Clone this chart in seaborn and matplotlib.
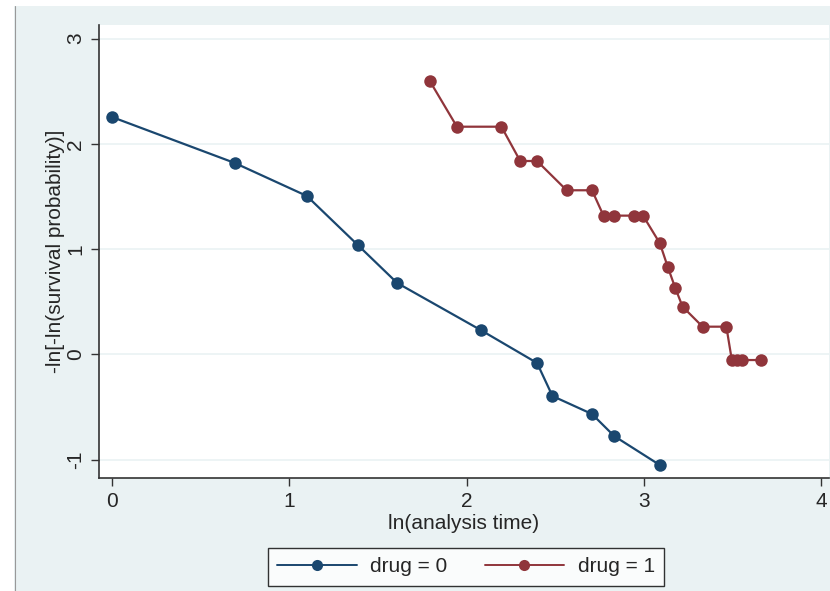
import matplotlib
matplotlib.use("Agg")
import matplotlib.pyplot as plt
from matplotlib.patches import Rectangle
import seaborn as sns
import pandas as pd

# drug = 0
x0 = [0.0, 0.693, 1.099, 1.386, 1.609, 2.079, 2.398, 2.485, 2.708, 2.833, 3.091]
y0 = [2.254, 1.817, 1.504, 1.039, 0.677, 0.231, -0.083, -0.397, -0.568, -0.777, -1.053]
# drug = 1
x1 = [1.792, 1.946, 2.197, 2.303, 2.398, 2.565, 2.708, 2.773, 2.833, 2.944, 2.996,
      3.091, 3.135, 3.178, 3.219, 3.332, 3.466, 3.497, 3.526, 3.555, 3.664]
y1 = [2.599, 2.162, 2.162, 1.836, 1.836, 1.558, 1.558, 1.317, 1.317, 1.317, 1.317,
      1.054, 0.832, 0.629, 0.452, 0.262, 0.262, -0.055, -0.055, -0.055, -0.055]
groups = ["drug = 0", "drug = 1"]
xticks = [0, 1, 2, 3, 4]
yticks = [-1, 0, 1, 2, 3]

df = pd.DataFrame({
    "x": x0 + x1,
    "y": y0 + y1,
    "group": [groups[0]] * len(x0) + [groups[1]] * len(x1),
})

sns.set_style("white")
plt.rcParams["font.family"] = ["Liberation Sans", "DejaVu Sans"]

BG = "#EAF2F3"
colors = {groups[0]: "#1a476f", groups[1]: "#90353b"}
FS = 15

fig = plt.figure(figsize=(8.30, 5.91), dpi=100)
fig.patch.set_facecolor(BG)
# white screenshot margins
fig.patches.append(Rectangle((0, 0), 14 / 830, 1, transform=fig.transFigure,
                             facecolor="white", edgecolor="none", zorder=-1))
fig.patches.append(Rectangle((0, 1 - 6 / 591), 1, 6 / 591, transform=fig.transFigure,
                             facecolor="white", edgecolor="none", zorder=-1))
fig.lines.append(plt.Line2D([15 / 830, 15 / 830], [0, 1 - 6 / 591], transform=fig.transFigure,
                            color="#999999", lw=0.8))

W, H = 830, 591
ax = fig.add_axes([99 / W, 1 - 478 / H, (829 - 99) / W, (478 - 25) / H])
ax.set_facecolor("white")

sns.lineplot(data=df, x="x", y="y", hue="group", palette=colors, marker="o",
             markersize=9, markeredgewidth=0, linewidth=1.6, sort=False,
             estimator=None, legend=False, ax=ax)

ax.set_xlim((99 - 112) / 177.25, (829 - 112) / 177.25)
ax.set_ylim((354.25 - 478) / 105.25, (354.25 - 25) / 105.25)
ax.set_xticks(xticks)
ax.set_yticks(yticks)
ax.set_xticklabels([str(t) for t in xticks], fontsize=FS)
ax.set_yticklabels([str(t) for t in yticks], fontsize=FS, rotation=90, va="center")
ax.tick_params(axis="both", direction="out", length=6, width=1, color="#333333",
               left=True, bottom=True, pad=4)
ax.yaxis.grid(True, color=BG, linewidth=1.2)
ax.xaxis.grid(False)
ax.set_axisbelow(True)
for s in ["top", "right"]:
    ax.spines[s].set_visible(False)
for s in ["left", "bottom"]:
    ax.spines[s].set_color("#333333")
    ax.spines[s].set_linewidth(1.2)

ax.set_xlabel("ln(analysis time)", fontsize=FS, labelpad=2)
ax.set_ylabel("-ln[-ln(survival probability)]", fontsize=FS, labelpad=1)

handles = [plt.Line2D([], [], color=colors[g], marker="o", markersize=8,
                      markeredgewidth=0, linewidth=1.4) for g in groups]
leg = fig.legend(handles, groups, loc="center", bbox_to_anchor=(466 / W, 1 - 567 / H),
                 ncol=2, fontsize=FS, frameon=True, fancybox=False, handlelength=3.8,
                 columnspacing=1.8, borderpad=0.45, handletextpad=0.65)
leg.get_frame().set_edgecolor("black")
leg.get_frame().set_linewidth(1.0)
leg.get_frame().set_facecolor("white")

fig.savefig("out.png", dpi=100, facecolor=fig.get_facecolor())
